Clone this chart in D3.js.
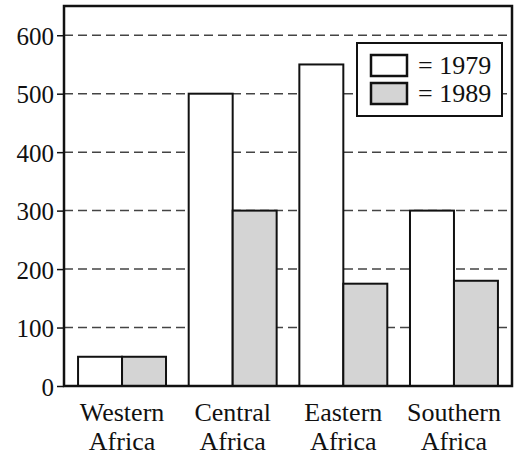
<!DOCTYPE html>
<html>
<head>
<meta charset="utf-8">
<script src="https://cdn.jsdelivr.net/npm/d3@7"></script>
<style>
  html, body { margin: 0; padding: 0; background: #fff; }
  svg { display: block; }
</style>
</head>
<body>
<svg id="chart" width="514" height="455"></svg>
<script>
const categories = ["Western Africa", "Central Africa", "Eastern Africa", "Southern Africa"];
const seriesNames = ["1979", "1989"];
const values1979 = [50, 500, 550, 300];
const values1989 = [50, 300, 175, 180];
const yTicks = [0, 100, 200, 300, 400, 500, 600];
const seriesFills = ["#ffffff", "#d4d4d4"];

const svg = d3.select("#chart");
const mLeft = 64, mRight = 512, mTop = 6, mBottom = 386;
const FONT = "Liberation Serif";

const x = d3.scaleBand().domain(categories).range([mLeft, mRight])
  .paddingInner(0.205).paddingOuter(0.127);
const xs = d3.scaleBand().domain(seriesNames).range([0, x.bandwidth()]).padding(0);
const y = d3.scaleLinear().domain([0, 650]).range([mBottom, mTop]);

// dashed gridlines
svg.append("g").selectAll("line").data(yTicks.filter(d => d > 0)).join("line")
  .attr("x1", mLeft).attr("x2", mRight)
  .attr("y1", d => y(d)).attr("y2", d => y(d))
  .attr("stroke", "#444").attr("stroke-width", 1.5)
  .attr("stroke-dasharray", "9,5");

// y axis
const yAxis = d3.axisLeft(y).tickValues(yTicks).tickSize(7).tickPadding(3);
const gy = svg.append("g").attr("transform", `translate(${mLeft},0)`).call(yAxis);
gy.select(".domain").remove();
gy.selectAll(".tick line").attr("stroke", "#111").attr("stroke-width", 1.5);
gy.selectAll(".tick text").attr("fill", "#111").attr("dy", "0.36em")
  .style("font-family", FONT).style("font-size", "25px");

// bars
const data = [];
categories.forEach((c, i) => {
  data.push({ cat: c, s: "1979", v: values1979[i], fill: seriesFills[0] });
  data.push({ cat: c, s: "1989", v: values1989[i], fill: seriesFills[1] });
});
svg.append("g").selectAll("rect").data(data).join("rect")
  .attr("x", d => x(d.cat) + xs(d.s))
  .attr("y", d => y(d.v))
  .attr("width", xs.bandwidth())
  .attr("height", d => y(0) - y(d.v))
  .attr("fill", d => d.fill)
  .attr("stroke", "#111").attr("stroke-width", 2);

// frame
svg.append("rect").attr("x", mLeft).attr("y", mTop)
  .attr("width", mRight - mLeft).attr("height", mBottom - mTop)
  .attr("fill", "none").attr("stroke", "#111").attr("stroke-width", 2.5);

// x labels
const xl = svg.append("g");
categories.forEach(c => {
  const parts = c.split(" ");
  const cx = x(c) + x.bandwidth() / 2;
  const t = xl.append("text").attr("text-anchor", "middle").attr("fill", "#111")
    .style("font-family", FONT).style("font-size", "26px");
  t.append("tspan").attr("x", cx).attr("y", 421).text(parts[0]);
  t.append("tspan").attr("x", cx).attr("y", 450).text(parts[1]);
});

// legend
const lg = svg.append("g");
lg.append("rect").attr("x", 357).attr("y", 43).attr("width", 145).attr("height", 73)
  .attr("fill", "#fff").attr("stroke", "#111").attr("stroke-width", 2);
seriesNames.forEach((s, i) => {
  const yy = 55 + i * 28;
  lg.append("rect").attr("x", 371).attr("y", yy).attr("width", 36).attr("height", 21)
    .attr("fill", seriesFills[i]).attr("stroke", "#111").attr("stroke-width", 2.5);
  lg.append("text").attr("x", 418).attr("y", yy + 19).attr("fill", "#111")
    .style("font-family", FONT).style("font-size", "26px").text("= " + s);
});
</script>
</body>
</html>
